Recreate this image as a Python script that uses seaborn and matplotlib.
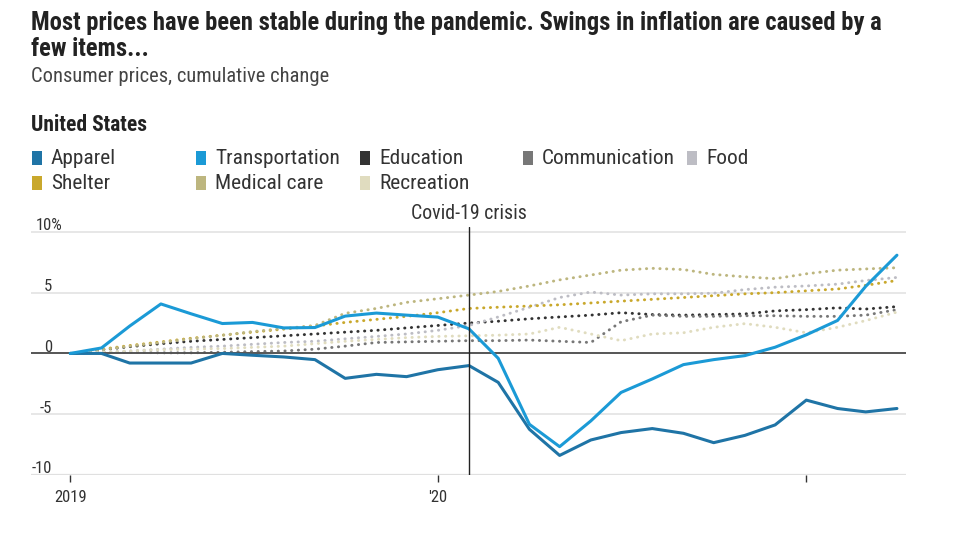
import pandas as pd
import numpy as np
import matplotlib
matplotlib.use('Agg')
import matplotlib.pyplot as plt
from matplotlib.transforms import blended_transform_factory
from matplotlib.patches import Rectangle
import seaborn as sns

# Monthly data, Jan 2019 - Apr 2021 (cumulative % change)
months = pd.date_range('2019-01-01', '2021-04-01', freq='MS')

apparel = [0, 0.0, -0.79, -0.79, -0.79, 0.0, -0.15, -0.29, -0.51, -2.05, -1.72, -1.91, -1.34, -1.0,
           -2.38, -6.24, -8.39, -7.12, -6.51, -6.18, -6.57, -7.34, -6.74, -5.88, -3.84, -4.53, -4.81, -4.53]
transportation = [0, 0.45, 2.25, 4.07, 3.26, 2.46, 2.55, 2.1, 2.13, 3.07, 3.32, 3.15, 2.99, 2.02,
                  -0.4, -5.83, -7.67, -5.55, -3.21, -2.1, -0.92, -0.51, -0.18, 0.51, 1.53, 2.71, 5.52, 8.08]
education = [0, 0.3, 0.55, 0.8, 1.0, 1.15, 1.3, 1.45, 1.6, 1.75, 1.9, 2.1, 2.3, 2.5,
             2.65, 2.85, 3.0, 3.15, 3.35, 3.2, 3.15, 3.2, 3.25, 3.5, 3.6, 3.75, 3.65, 3.85]
communication = [0, 0.1, 0.1, 0.05, 0.05, 0.1, 0.15, 0.2, 0.35, 0.6, 0.9, 0.95, 1.0, 1.05,
                 1.05, 1.1, 1.0, 0.9, 2.6, 3.15, 3.05, 3.05, 3.1, 3.1, 3.05, 3.05, 3.15, 3.6]
food = [0, 0.1, 0.2, 0.35, 0.5, 0.6, 0.75, 0.9, 1.0, 1.2, 1.4, 1.6, 1.9, 2.3,
        3.0, 3.8, 4.6, 5.05, 4.8, 4.9, 4.9, 4.95, 5.25, 5.45, 5.55, 5.7, 6.0, 6.25]
shelter = [0, 0.35, 0.65, 0.95, 1.25, 1.5, 1.75, 2.0, 2.25, 2.55, 2.8, 3.05, 3.35, 3.7,
           3.8, 3.9, 4.0, 4.15, 4.3, 4.45, 4.6, 4.75, 4.9, 5.0, 5.15, 5.3, 5.6, 6.0]
medical = [0, 0.3, 0.6, 0.9, 1.2, 1.5, 1.8, 2.05, 2.3, 3.3, 3.7, 4.2, 4.5, 4.8,
           5.1, 5.55, 6.05, 6.45, 6.85, 7.0, 6.9, 6.5, 6.3, 6.15, 6.55, 6.85, 6.95, 7.05]
recreation = [0, 0.1, 0.2, 0.3, 0.35, 0.4, 0.5, 0.6, 0.8, 1.0, 1.15, 1.3, 1.4, 1.45,
              1.5, 1.6, 2.15, 1.6, 1.05, 1.6, 1.7, 2.15, 2.45, 2.15, 1.7, 2.15, 2.7, 3.4]

names = ['Apparel', 'Transportation', 'Education', 'Communication', 'Food',
         'Shelter', 'Medical care', 'Recreation']
series = [apparel, transportation, education, communication, food, shelter, medical, recreation]
colors = ['#1f74a6', '#1b9ad6', '#333333', '#777777', '#bdbdc4', '#c9a82c', '#bdb67f', '#e0dcbf']
solid = [True, True, False, False, False, False, False, False]

yticks = [-10, -5, 0, 5, 10]
ylabels = ['-10', '-5', '0', '5', '10%']
xticks = pd.to_datetime(['2019-01-01', '2020-01-01', '2021-01-01'])
xlabels = ['2019', "'20", '']
covid_date = pd.Timestamp('2020-02-01')

sns.set_style('white')
plt.rcParams['font.family'] = ['Roboto Condensed', 'DejaVu Sans']

W, H = 961, 545
fig = plt.figure(figsize=(W / 100, H / 100), dpi=100)
ax = fig.add_axes([31 / W, 1 - 475 / H, 875 / W, (475 - 227) / H])

# dotted series first, solid ones on top
for name, vals, c, s in zip(names, series, colors, solid):
    if s:
        continue
    sns.lineplot(x=months, y=vals, ax=ax, color=c, lw=2.1, linestyle=(0, (0.1, 2.2)),
                 dash_capstyle='round', zorder=2)
for name, vals, c, s in zip(names, series, colors, solid):
    if not s:
        continue
    sns.lineplot(x=months, y=vals, ax=ax, color=c, lw=2.2, zorder=4)

ax.set_ylim(-10, 10.4)
ax.set_xlim(months[0] - pd.Timedelta(days=39), months[-1] + pd.Timedelta(days=9))
for sp in ax.spines.values():
    sp.set_visible(False)

for v in yticks:
    if v == 0:
        ax.axhline(0, color='#555555', lw=1.4, zorder=3)
    else:
        ax.axhline(v, color='#e0e0e0', lw=1.1 if v != -10 else 1.6, zorder=1)

ax.set_yticks([])
ax.set_ylabel('')
ax.set_xlabel('')
tr = blended_transform_factory(ax.transAxes, ax.transData)
for v, lab in zip(yticks, ylabels):
    if lab.endswith('%'):
        ax.text(5 / 875, v - 0.12, lab, transform=tr, ha='left', va='bottom', fontsize=12, color='#333333')
    else:
        ax.text(21 / 875, v - 0.12, lab, transform=tr, ha='right', va='bottom', fontsize=12, color='#333333')

ax.set_xticks(xticks)
ax.set_xticklabels(xlabels)
ax.tick_params(axis='x', length=5, width=1, color='#333333', labelsize=12, labelcolor='#333333', pad=6, bottom=True)

ax.axvline(covid_date, color='#222222', lw=1, zorder=5)
ax.text(covid_date, 10.75, 'Covid-19 crisis', ha='center', va='bottom', fontsize=14.3, color='#333333')

# titles
fig.text(31 / W, 1 - 11 / H, 'Most prices have been stable during the pandemic. Swings in inflation are caused by a\nfew items...',
         ha='left', va='top', fontsize=17.7, fontweight='bold', color='#222222', linespacing=1.08)
fig.text(31 / W, 1 - 76 / H, 'Consumer prices, cumulative change', ha='left', va='center', fontsize=14.8, color='#444444')
fig.text(31 / W, 1 - 125 / H, 'United States', ha='left', va='center', fontsize=15.5, fontweight='bold', color='#222222')

# legend
col_x = [32, 196, 360, 523, 687]
row_y = [158, 183]
for i, (name, c) in enumerate(zip(names, colors)):
    x0 = col_x[i % 5]
    y0 = row_y[i // 5]
    fig.patches.append(Rectangle((x0 / W, 1 - (y0 + 7) / H), 10 / W, 14 / H, transform=fig.transFigure,
                                 facecolor=c, edgecolor='none'))
    fig.text((x0 + 19) / W, 1 - y0 / H, name, ha='left', va='center', fontsize=15.4, color='#333333')

fig.savefig('out.png', dpi=100)
